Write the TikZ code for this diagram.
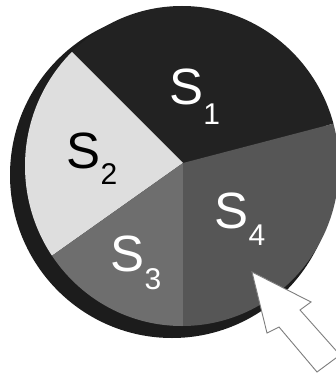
\documentclass[tikz,border=0pt]{standalone}
\usepackage{fontspec}
\setmainfont{Liberation Sans}
\usetikzlibrary{positioning}
\definecolor{sliceone}{RGB}{34,34,34}
\definecolor{slicetwo}{RGB}{222,222,222}
\definecolor{slicethree}{RGB}{110,110,110}
\definecolor{slicefour}{RGB}{86,86,86}
\definecolor{rimdark}{RGB}{28,28,28}
\definecolor{pointergray}{RGB}{125,125,125}
\tikzset{
  slicelabel/.style={inner sep=0pt,outer sep=0pt,anchor=base west,font=\fontsize{51}{51}\selectfont},
  pointer/.style={fill=white,draw=pointergray,line width=.9pt,line join=miter}
}
\newcommand{\sublbl}[2]{S\raisebox{-#2}{\fontsize{30}{30}\selectfont #1}}

\begin{document}
\begin{tikzpicture}[x=1pt,y=-1pt]
    \useasboundingbox (0,0) rectangle (336,377);
    \fill[white] (0,0) rectangle (336,377);
    % rim below the disc
    \fill[rimdark] (172,175) ellipse [x radius=162pt,y radius=163pt];
    \begin{scope}
      \clip (182,166) ellipse [x radius=157pt,y radius=160pt];
      \coordinate (hub) at (183,163);
      \fill[sliceone] (hub) -- (-39,-59) -- (-39,-200) -- (489,-200) -- (489,83) -- cycle;
      \fill[slicetwo] (hub) -- (-39,-59) -- (-200,-59) -- (-200,347) -- (-77,347) -- cycle;
      \fill[slicethree] (hub) -- (-77,347) -- (-77,489) -- (183,489) -- cycle;
      \fill[slicefour] (hub) -- (183,489) -- (489,489) -- (489,83) -- cycle;
    \end{scope}
    \foreach \name/\pos/\idx/\col/\drop in {s1/{169.3,105}/1/white/20pt,s2/{66.6,168.3}/2/black/16pt,s3/{110.6,271.7}/3/white/18pt,s4/{214.6,228.3}/4/white/17pt}{
      \node[slicelabel,text=\col] (\name) at (\pos) {\sublbl{\idx}{\drop}};}
    % pointer
    \coordinate (tip) at (252,272);
    \begin{scope}
      \clip (0,0) rectangle (336,377);
      \draw[pointer] (tip) -- (267,333) -- (279,327) -- (317,372) -- (340,355) -- (300,310) -- (311,302) -- cycle;
    \end{scope}
  \end{tikzpicture}
\end{document}
